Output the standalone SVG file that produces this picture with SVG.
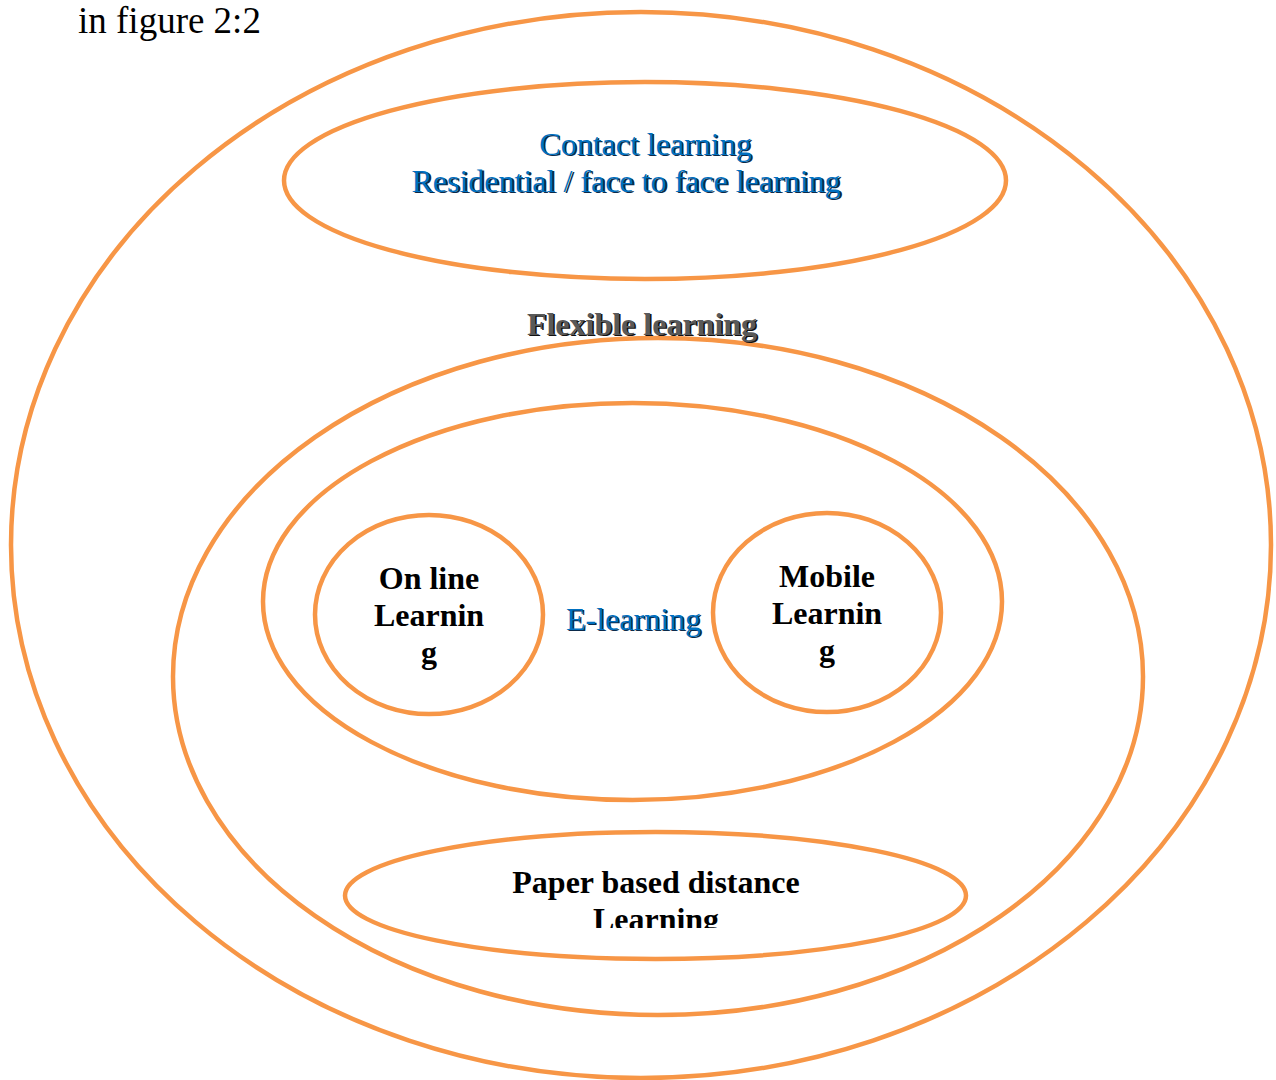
<svg xmlns="http://www.w3.org/2000/svg" width="1276" height="1080" viewBox="0 0 1276 1080">
  <style>
    .ring { fill: none; stroke: #F79646; stroke-width: 4.5; }
    .caption { font-family: "Liberation Serif", "Times New Roman", serif; font-size: 37px; fill: #000; }
    .blue { font-family: "Liberation Serif", "Times New Roman", serif; font-size: 32px; fill: #0070C0; text-anchor: middle; }
    .blue-shadow { font-family: "Liberation Serif", "Times New Roman", serif; font-size: 32px; fill: #0B2A4A; text-anchor: middle; }
    .grey { font-family: "Liberation Serif", "Times New Roman", serif; font-size: 32px; font-weight: bold; fill: #595959; text-anchor: middle; }
    .grey-shadow { font-family: "Liberation Serif", "Times New Roman", serif; font-size: 32px; font-weight: bold; fill: #111; text-anchor: middle; }
    .label { font-family: "Liberation Serif", "Times New Roman", serif; font-size: 32px; font-weight: bold; fill: #000; text-anchor: middle; }
  </style>
  <defs>
    <clipPath id="paper-clip">
      <rect x="345" y="832" width="622" height="96"/>
    </clipPath>
  </defs>
  <rect width="1276" height="1080" fill="#fff"/>

  <text class="caption" x="78" y="33">in figure 2:2</text>

  <g id="outer">
    <ellipse class="ring" cx="641" cy="545" rx="630" ry="533"/>
  </g>

  <g id="contact-learning">
    <ellipse class="ring" cx="645" cy="180.5" rx="361" ry="98.5"/>
    <text class="blue-shadow" x="647" y="156">Contact learning</text>
    <text class="blue-shadow" x="628" y="193">Residential / face to face learning</text>
    <text class="blue" x="645.5" y="154.5">Contact learning</text>
    <text class="blue" x="626" y="191.5">Residential / face to face learning</text>
  </g>

  <g id="flexible-learning">
    <ellipse class="ring" cx="658" cy="676.5" rx="485" ry="338.5"/>
    <text class="grey-shadow" x="643.5" y="336">Flexible learning</text>
    <text class="grey" x="642" y="334.5">Flexible learning</text>
  </g>

  <g id="e-learning">
    <ellipse class="ring" cx="632.5" cy="601.5" rx="369.5" ry="198.5"/>
    <text class="blue-shadow" x="635" y="631">E-learning</text>
    <text class="blue" x="633.5" y="629.5">E-learning</text>
  </g>

  <g id="online-learning">
    <ellipse class="ring" cx="429" cy="614.5" rx="114" ry="99.5"/>
    <text class="label" x="429" y="589">On line</text>
    <text class="label" x="429" y="626">Learnin</text>
    <text class="label" x="429" y="663">g</text>
  </g>

  <g id="mobile-learning">
    <ellipse class="ring" cx="827" cy="612.5" rx="114" ry="99.5"/>
    <text class="label" x="827" y="587">Mobile</text>
    <text class="label" x="827" y="624">Learnin</text>
    <text class="label" x="827" y="661">g</text>
  </g>

  <g id="paper-learning">
    <ellipse class="ring" cx="655.5" cy="895.5" rx="310.5" ry="63.5"/>
    <g clip-path="url(#paper-clip)">
      <text class="label" x="656" y="893">Paper based distance</text>
      <text class="label" x="656" y="930">Learning</text>
    </g>
  </g>

  <g id="connectors"/>
</svg>
